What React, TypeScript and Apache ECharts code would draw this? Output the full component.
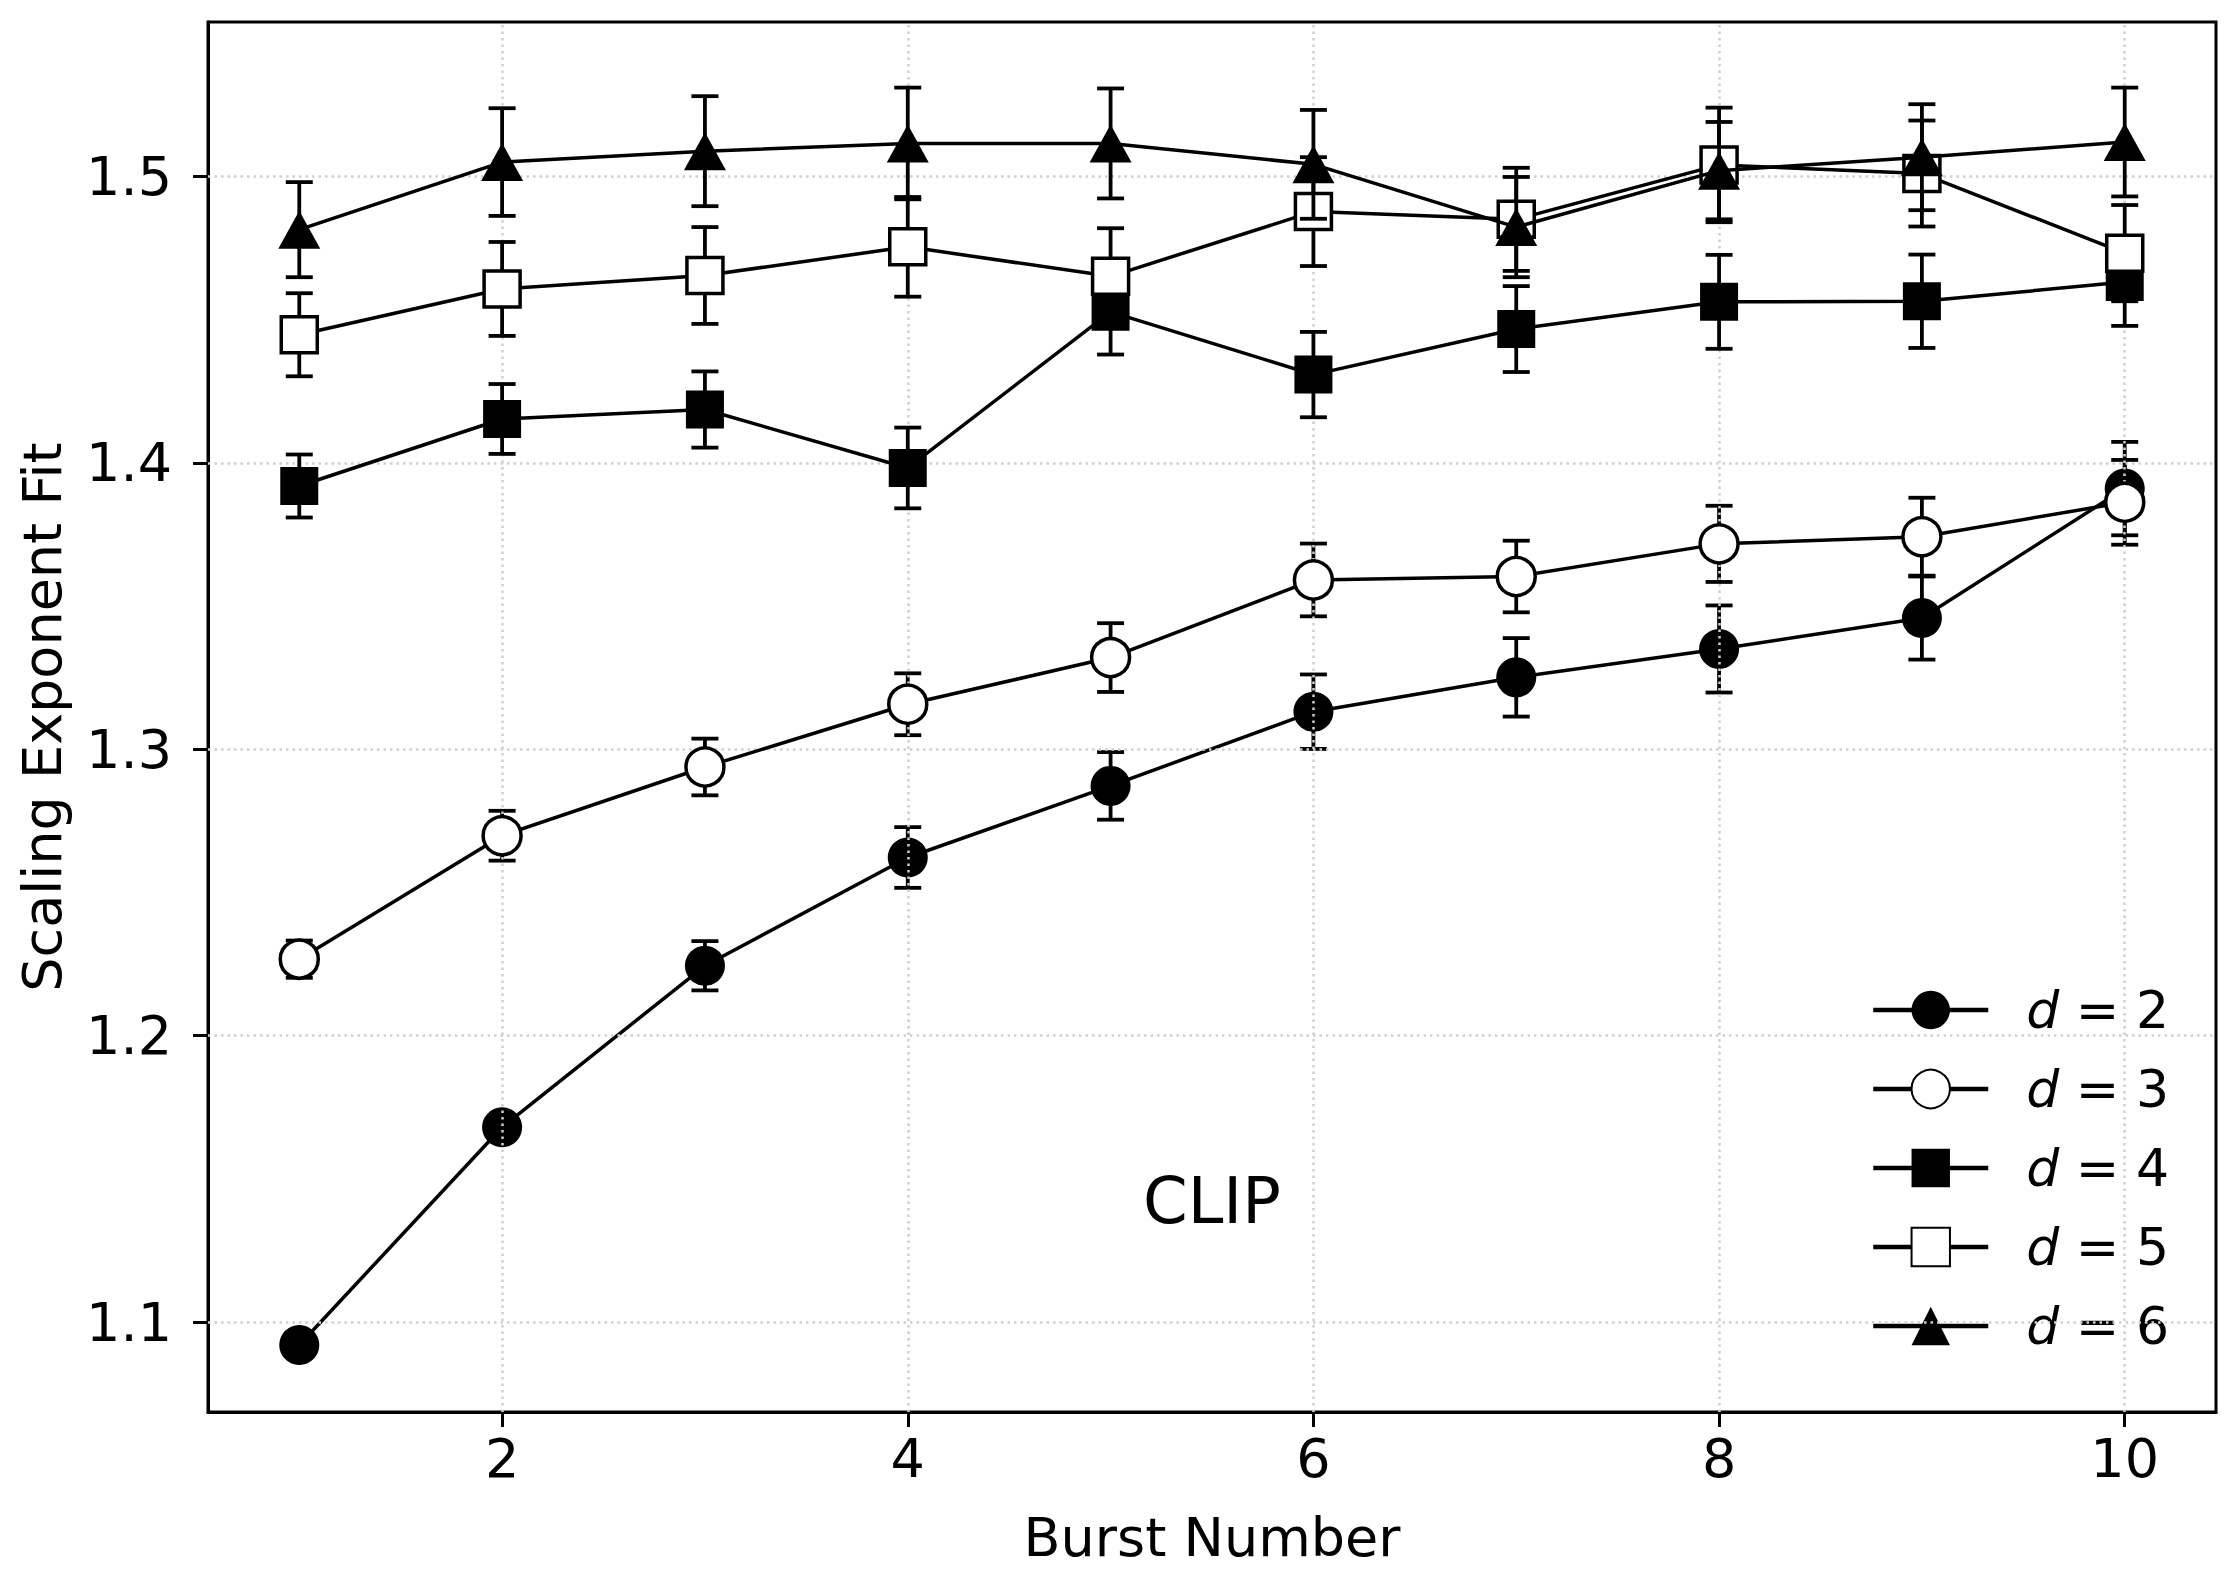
import * as echarts from "echarts";
import { useEffect, useRef } from "react";

const bursts = [1, 2, 3, 4, 5, 6, 7, 8, 9, 10];

const d2 = [1.092, 1.168, 1.2244, 1.2622, 1.2872, 1.3131, 1.3251, 1.335, 1.3458, 1.391];
const e2 = [0.003, 0.003, 0.0086, 0.0106, 0.0118, 0.013, 0.0137, 0.0152, 0.0145, 0.0163];
const d3 = [1.2267, 1.2698, 1.2938, 1.3157, 1.332, 1.3591, 1.3603, 1.3717, 1.3742, 1.3862];
const e3 = [0.0065, 0.0087, 0.0099, 0.0108, 0.012, 0.0127, 0.0125, 0.0133, 0.0136, 0.0148];
const d4 = [1.3919, 1.4153, 1.4186, 1.3982, 1.4527, 1.4308, 1.4467, 1.4562, 1.4564, 1.4631];
const e4 = [0.011, 0.0122, 0.0133, 0.0141, 0.0149, 0.0149, 0.015, 0.0164, 0.0163, 0.0153];
const d5 = [1.4447, 1.4607, 1.4654, 1.4754, 1.4651, 1.4877, 1.485, 1.504, 1.501, 1.4732];
const e5 = [0.0145, 0.0164, 0.0169, 0.0174, 0.0168, 0.019, 0.018, 0.02, 0.0185, 0.0168];
const d6 = [1.4814, 1.505, 1.5088, 1.5115, 1.5115, 1.5042, 1.4823, 1.502, 1.5067, 1.512];
const e6 = [0.0166, 0.0188, 0.0192, 0.0195, 0.0192, 0.019, 0.0175, 0.017, 0.0185, 0.019];

const xTicks = [2, 4, 6, 8, 10];
const yTicks = [1.1, 1.2, 1.3, 1.4, 1.5];

const FONT = "DejaVu Sans";

// d value, values, errors, symbol, fill, size
const groups: [string, number[], number[], string, string, number | number[]][] = [
  ["2", d2, e2, "circle", "#000", 40],
  ["3", d3, e3, "circle", "#fff", 38],
  ["4", d4, e4, "rect", "#000", 38],
  ["5", d5, e5, "rect", "#fff", 36],
  ["6", d6, e6, "triangle", "#000", [42, 38]],
];

const CAP = 13.5;

function errorBars(params: any, api: any) {
  const x = api.value(0);
  const top = api.coord([x, api.value(2)]);
  const bot = api.coord([x, api.value(1)]);
  const st = { stroke: "#000", lineWidth: 3.8 };
  return {
    type: "group",
    children: [
      { type: "line", shape: { x1: top[0], y1: top[1], x2: bot[0], y2: bot[1] }, style: st },
      { type: "line", shape: { x1: top[0] - CAP, y1: top[1], x2: top[0] + CAP, y2: top[1] }, style: st },
      { type: "line", shape: { x1: bot[0] - CAP, y1: bot[1], x2: bot[0] + CAP, y2: bot[1] }, style: st },
    ],
  };
}

export default function App() {
  const ref = useRef<HTMLDivElement>(null);

  useEffect(() => {
    if (!ref.current) return;
    const chart = echarts.init(ref.current, null, { renderer: "svg" });

    const series: any[] = [
      {
        type: "line",
        data: [],
        z: 1,
        silent: true,
        markLine: {
          silent: true,
          symbol: ["none", "none"],
          label: { show: false },
          lineStyle: { color: "#cfcfcf", type: [2.5, 4], width: 2.5 },
          data: [
            ...yTicks.map((v) => ({ yAxis: v })),
            ...xTicks.map((v) => ({ xAxis: v })),
          ],
        },
      },
    ];

    groups.forEach(([d, vals, errs, symbol, fill, size], i) => {
      series.push({
        type: "custom",
        renderItem: errorBars,
        z: 2 + i * 2,
        silent: true,
        encode: { x: 0, y: [1, 2] },
        data: bursts.map((b, k) => [b, vals[k] - errs[k], vals[k] + errs[k]]),
      });
      series.push({
        name: "d = " + d,
        type: "line",
        z: 3 + i * 2,
        data: bursts.map((b, k) => [b, vals[k]]),
        symbol,
        symbolSize: size,
        showAllSymbol: true,
        itemStyle: { color: fill, borderColor: "#000", borderWidth: fill === "#fff" ? 3.5 : 0 },
        lineStyle: { color: "#000", width: 3.5 },
      });
    });

    chart.setOption({
      animation: false,
      textStyle: { fontFamily: FONT },
      grid: {
        left: 208,
        right: 24,
        top: 22,
        bottom: 162,
        show: true,
        borderColor: "#000",
        borderWidth: 3,
      },
      xAxis: {
        type: "value",
        min: 0.55,
        max: 10.45,
        name: "Burst Number",
        nameLocation: "middle",
        nameGap: 98,
        nameTextStyle: { fontSize: 54, color: "#000", fontFamily: FONT },
        axisLine: { lineStyle: { color: "#000", width: 3 } },
        axisTick: { customValues: xTicks, length: 15, lineStyle: { color: "#000", width: 3 } },
        axisLabel: {
          customValues: xTicks,
          fontSize: 54,
          color: "#000",
          margin: 19,
          fontFamily: FONT,
        },
        splitLine: { show: false },
      },
      yAxis: {
        type: "value",
        min: 1.0686,
        max: 1.5539,
        name: "Scaling Exponent Fit",
        nameLocation: "middle",
        nameGap: 139,
        nameTextStyle: { fontSize: 54, color: "#000", fontFamily: FONT },
        axisLine: { show: true, lineStyle: { color: "#000", width: 3 } },
        axisTick: { show: true, customValues: yTicks, length: 15, lineStyle: { color: "#000", width: 3 } },
        axisLabel: {
          customValues: yTicks,
          fontSize: 54,
          color: "#000",
          margin: 36,
          fontFamily: FONT,
          formatter: (v: number) => v.toFixed(1),
        },
        splitLine: { show: false },
      },
      legend: {
        orient: "vertical",
        left: 1866,
        top: 979,
        itemWidth: 115,
        itemHeight: 48,
        itemGap: 27,
        selectedMode: false,
        lineStyle: { width: 4.5 },
        data: groups.map((g) => "d = " + g[0]),
        formatter: (name: string) => "{i|d} = " + name.slice(-1),
        textStyle: {
          fontSize: 52,
          color: "#000",
          fontFamily: FONT,
          padding: [0, 0, 0, 33],
          rich: {
            i: { fontStyle: "italic", fontSize: 52, fontFamily: FONT, color: "#000" },
          },
        },
      },
      graphic: [
        {
          type: "text",
          left: 1143,
          top: 1169,
          style: { text: "CLIP", fontSize: 64, fontFamily: FONT, fill: "#000" },
        },
      ],
      series,
    });

    return () => chart.dispose();
  }, []);

  return (
    <div
      ref={ref}
      style={{ position: "absolute", left: 0, top: 0, width: 2240, height: 1574, background: "#fff" }}
    />
  );
}
